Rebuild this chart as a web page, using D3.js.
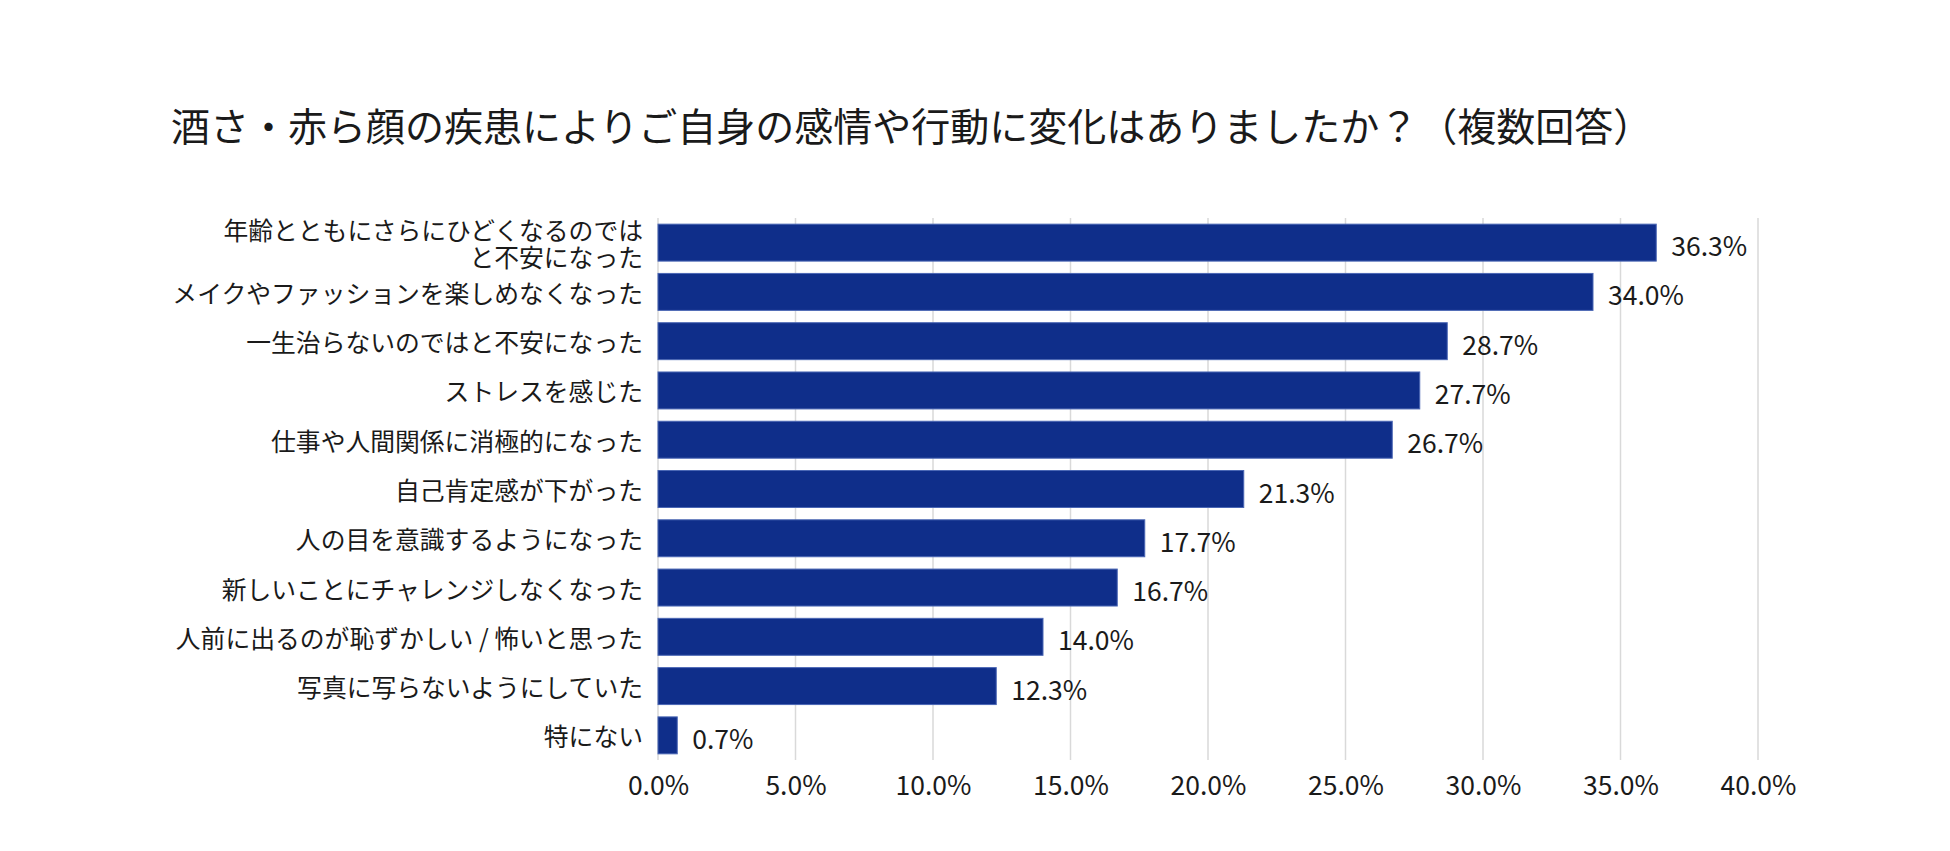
<!DOCTYPE html>
<html>
<head>
<meta charset="utf-8">
<script src="https://cdn.jsdelivr.net/npm/d3@7"></script>
<style>
  body { margin: 0; background: #fff; }
  text { font-family: "Noto Sans CJK JP", "Noto Sans", sans-serif; fill: #1a1a1a; }
</style>
</head>
<body>
<div id="chart"></div>
<script>
// data
const categories = [
  "年齢とともにさらにひどくなるのでは|と不安になった",
  "メイクやファッションを楽しめなくなった",
  "一生治らないのではと不安になった",
  "ストレスを感じた",
  "仕事や人間関係に消極的になった",
  "自己肯定感が下がった",
  "人の目を意識するようになった",
  "新しいことにチャレンジしなくなった",
  "人前に出るのが恥ずかしい / 怖いと思った",
  "写真に写らないようにしていた",
  "特にない"
];
const values = [36.3, 34.0, 28.7, 27.7, 26.7, 21.3, 17.7, 16.7, 14.0, 12.3, 0.7];
const ticks = [0, 5, 10, 15, 20, 25, 30, 35, 40];
const title = "酒さ・赤ら顔の疾患によりご自身の感情や行動に変化はありましたか？（複数回答）";

const W = 1950, H = 851;
const margin = {top: 218, right: 192, bottom: 91, left: 658};
const width = W - margin.left - margin.right,
  height = H - margin.top - margin.bottom;

const svg = d3.select("#chart")
  .append("svg")
    .attr("width", W)
    .attr("height", H);

svg.append("text")
  .attr("x", 171)
  .attr("y", 124)
  .attr("dominant-baseline", "central")
  .style("font-size", "39px")
  .text(title);

const g = svg.append("g")
  .attr("transform", "translate(" + margin.left + "," + margin.top + ")");

const x = d3.scaleLinear().domain([0, 40]).range([0, width]);
const y = d3.scaleBand().domain(categories).range([0, height]).paddingInner(0.25).paddingOuter(0.125);

// gridlines
g.selectAll(".grid")
  .data(ticks)
  .join("line")
  .attr("class", "grid")
  .attr("x1", d => x(d)).attr("x2", d => x(d))
  .attr("y1", 0).attr("y2", height)
  .style("stroke", "#d9d9d9")
  .style("stroke-width", 1.5);

// x axis labels
const xAxis = g.append("g")
  .attr("transform", "translate(0," + height + ")")
  .call(d3.axisBottom(x).tickValues(ticks).tickFormat(d => d.toFixed(1) + "%").tickSize(0).tickPadding(16));
xAxis.select(".domain").remove();
xAxis.selectAll("text")
  .style("font-size", "26.5px")
  .style("font-family", "\"Noto Sans CJK JP\", \"Noto Sans\", sans-serif")
  .attr("fill", "#1a1a1a");

// bars
g.selectAll(".bar")
  .data(values)
  .join("rect")
  .attr("class", "bar")
  .attr("x", x(0))
  .attr("y", (d, i) => y(categories[i]))
  .attr("width", d => x(d) - x(0))
  .attr("height", y.bandwidth())
  .style("fill", "#0f2e8a")
  .style("stroke", "#4a66b4")
  .style("stroke-width", 1);

// value labels
g.selectAll(".val")
  .data(values)
  .join("text")
  .attr("class", "val")
  .attr("x", d => x(d) + 15)
  .attr("y", (d, i) => y(categories[i]) + y.bandwidth() / 2 + 2)
  .attr("dominant-baseline", "central")
  .style("font-size", "26.5px")
  .text(d => d.toFixed(1) + "%");

// category labels (| splits lines)
const lab = g.selectAll(".cat")
  .data(categories)
  .join("text")
  .attr("class", "cat")
  .attr("text-anchor", "end")
  .attr("dominant-baseline", "central")
  .style("font-size", "24.8px")
  .attr("transform", d => "translate(-15," + (y(d) + y.bandwidth() / 2) + ")");

lab.each(function(d) {
  const lines = d.split("|");
  const lh = 27;
  d3.select(this).selectAll("tspan")
    .data(lines)
    .join("tspan")
    .attr("x", 0)
    .attr("y", (l, i) => (i - (lines.length - 1) / 2) * lh)
    .text(l => l);
});
</script>
</body>
</html>
